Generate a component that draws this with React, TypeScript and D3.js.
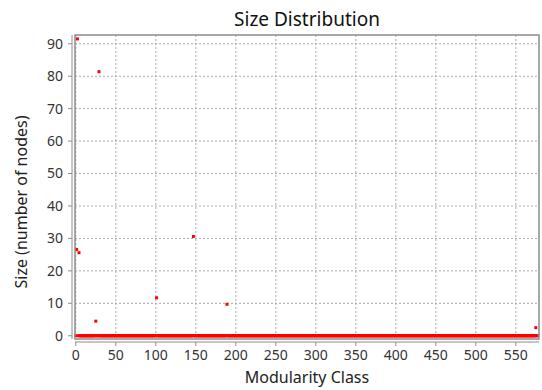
import * as d3 from "d3";

const WIDTH = 542;
const HEIGHT = 390;
const PLOT = { left: 75, right: 539, top: 35, bottom: 339 };
const FONT = "'Noto Sans', 'Open Sans', sans-serif";

// modularity classes 0..577, most of them read as size 0
const CLASS_COUNT = 578;
// the classes that stand out from the band
const outlierClasses = [2, 29, 1, 4, 147, 101, 189, 25, 575];
const outlierSizes = [91.5, 81.4, 26.6, 25.6, 30.6, 11.7, 9.7, 4.5, 2.5];

const xTicks = [0, 50, 100, 150, 200, 250, 300, 350, 400, 450, 500, 550];
const yTicks = [0, 10, 20, 30, 40, 50, 60, 70, 80, 90];

const X_DOMAIN = [-1, 579];
const Y_DOMAIN = [-1, 92.7];

function App() {
  const xScale = d3.scaleLinear().domain(X_DOMAIN).range([PLOT.left, PLOT.right]);
  const yScale = d3.scaleLinear().domain(Y_DOMAIN).range([PLOT.bottom, PLOT.top]);

  const sizeByClass = new Map(outlierClasses.map((c, i) => [c, outlierSizes[i]]));
  const points = d3.range(CLASS_COUNT).map((c) => ({
    cls: c,
    size: sizeByClass.get(c) ?? 0,
  }));

  const midX = (PLOT.left + PLOT.right) / 2;
  const midY = (PLOT.top + PLOT.bottom) / 2;

  return (
    <svg
      width={WIDTH}
      height={HEIGHT}
      style={{ position: "absolute", left: 0, top: 0, background: "#fff" }}
    >
      <text x={midX} y={26} textAnchor="middle" fontFamily={FONT} fontSize={19} fill="#111">
        Size Distribution
      </text>

      {/* grid */}
      <g stroke="#a8a8a8" strokeWidth={1} strokeDasharray="2,2">
        {xTicks.map((t) => (
          <line key={"gx" + t} x1={xScale(t)} x2={xScale(t)} y1={PLOT.top} y2={PLOT.bottom} />
        ))}
        {yTicks.map((t) => (
          <line key={"gy" + t} x1={PLOT.left} x2={PLOT.right} y1={yScale(t)} y2={yScale(t)} />
        ))}
      </g>

      {/* points */}
      <g fill="#ff0000">
        {points.map((p) => (
          <rect
            key={p.cls}
            x={xScale(p.cls) - 1.5}
            y={yScale(p.size) - 1.5}
            width={3}
            height={3}
          />
        ))}
      </g>

      {/* plot border */}
      <rect
        x={PLOT.left}
        y={PLOT.top}
        width={PLOT.right - PLOT.left}
        height={PLOT.bottom - PLOT.top}
        fill="none"
        stroke="#8c8c8c"
        strokeWidth={1.5}
      />

      {/* y axis */}
      <g>
        <line x1={72} x2={72} y1={PLOT.top} y2={PLOT.bottom} stroke="#8c8c8c" strokeWidth={1} />
        {yTicks.map((t) => (
          <g key={"ty" + t}>
            <line x1={68} x2={72} y1={yScale(t)} y2={yScale(t)} stroke="#8c8c8c" />
            <text
              x={63}
              y={yScale(t)}
              dy="0.35em"
              textAnchor="end"
              fontFamily={FONT}
              fontSize={14}
              fill="#333"
            >
              {t}
            </text>
          </g>
        ))}
      </g>

      {/* x axis */}
      <g>
        <line x1={PLOT.left} x2={PLOT.right} y1={342} y2={342} stroke="#8c8c8c" strokeWidth={1} />
        {xTicks.map((t) => (
          <g key={"tx" + t}>
            <line x1={xScale(t)} x2={xScale(t)} y1={342} y2={346} stroke="#8c8c8c" />
            <text
              x={xScale(t)}
              y={360}
              textAnchor="middle"
              fontFamily={FONT}
              fontSize={14}
              fill="#333"
            >
              {t}
            </text>
          </g>
        ))}
      </g>

      <text x={midX} y={383} textAnchor="middle" fontFamily={FONT} fontSize={16} fill="#222">
        Modularity Class
      </text>
      <text
        transform={`translate(27,${midY + 15}) rotate(-90)`}
        textAnchor="middle"
        fontFamily={FONT}
        fontSize={16}
        fill="#222"
      >
        Size (number of nodes)
      </text>
    </svg>
  );
}

export default App;
